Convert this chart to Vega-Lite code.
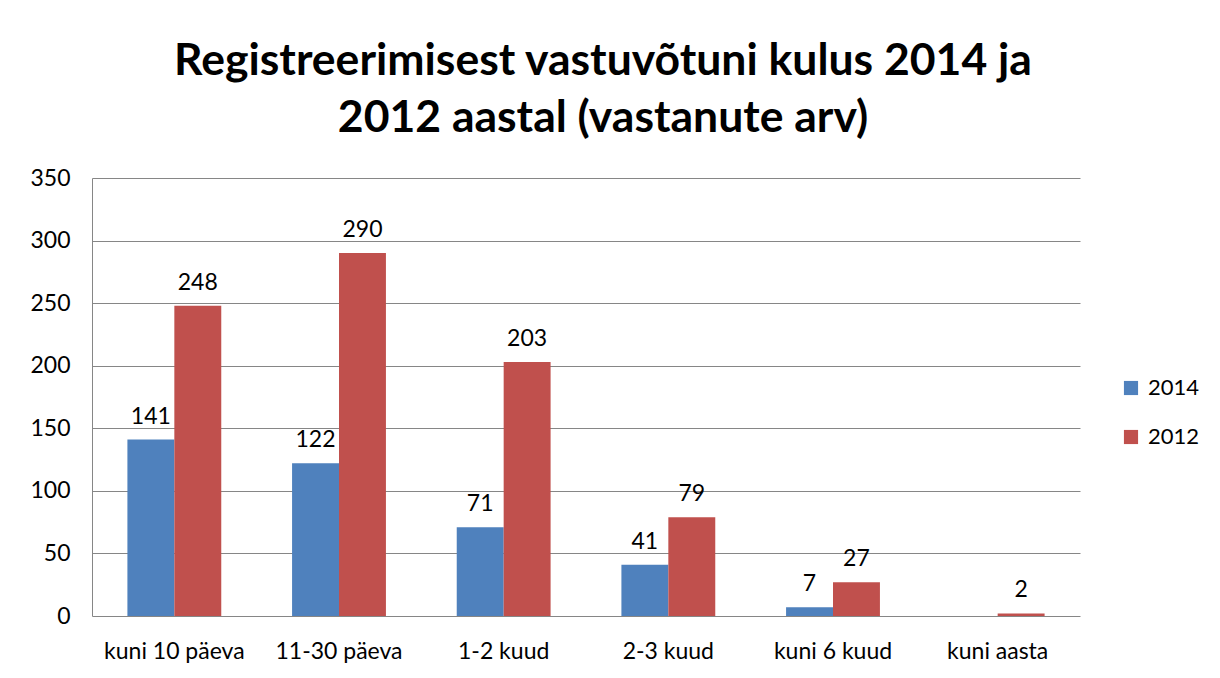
{
  "$schema": "https://vega.github.io/schema/vega-lite/v6.json",
  "autosize": {"type": "none"},
  "width": 988,
  "height": 438,
  "padding": {"left": 92, "top": 178, "right": 140, "bottom": 62},
  "background": "white",
  "title": {
    "text": ["Registreerimisest vastuvõtuni kulus 2014 ja", "2012 aastal (vastanute arv)"],
    "font": "Lato",
    "fontSize": 44.5,
    "fontWeight": "bold",
    "lineHeight": 57,
    "color": "black",
    "anchor": "middle",
    "dx": 17,
    "offset": 26
  },
  "data": {
    "values": [
      {"kategooria": "kuni 10 päeva", "aasta": "2014", "arv": 141},
      {"kategooria": "kuni 10 päeva", "aasta": "2012", "arv": 248},
      {"kategooria": "11-30 päeva", "aasta": "2014", "arv": 122},
      {"kategooria": "11-30 päeva", "aasta": "2012", "arv": 290},
      {"kategooria": "1-2 kuud", "aasta": "2014", "arv": 71},
      {"kategooria": "1-2 kuud", "aasta": "2012", "arv": 203},
      {"kategooria": "2-3 kuud", "aasta": "2014", "arv": 41},
      {"kategooria": "2-3 kuud", "aasta": "2012", "arv": 79},
      {"kategooria": "kuni 6 kuud", "aasta": "2014", "arv": 7},
      {"kategooria": "kuni 6 kuud", "aasta": "2012", "arv": 27},
      {"kategooria": "kuni aasta", "aasta": "2012", "arv": 2}
    ]
  },
  "encoding": {
    "x": {
      "field": "kategooria",
      "type": "nominal",
      "sort": null,
      "scale": {"paddingInner": 0.43, "paddingOuter": 0.215},
      "axis": {
        "title": null,
        "labelAngle": 0,
        "labelFont": "Lato",
        "labelFontSize": 23,
        "labelColor": "black",
        "labelPadding": 24,
        "ticks": false,
        "domain": false,
        "grid": false
      }
    },
    "xOffset": {
      "field": "aasta",
      "type": "nominal",
      "sort": ["2014", "2012"],
      "scale": {"paddingInner": 0, "paddingOuter": 0}
    },
    "y": {
      "field": "arv",
      "type": "quantitative",
      "scale": {"domain": [0, 350], "nice": false},
      "axis": {
        "title": null,
        "values": [0, 50, 100, 150, 200, 250, 300, 350],
        "labelFont": "Lato",
        "labelFontSize": 23,
        "labelColor": "black",
        "labelPadding": 22,
        "ticks": false,
        "domain": true,
        "domainColor": "#868686",
        "gridColor": "#868686",
        "gridWidth": 1
      }
    }
  },
  "layer": [
    {
      "mark": {"type": "bar"},
      "encoding": {
        "color": {
          "field": "aasta",
          "type": "nominal",
          "scale": {"domain": ["2014", "2012"], "range": ["#4F81BD", "#C0504D"]},
          "legend": {
            "title": null,
            "orient": "none",
            "legendX": 1028,
            "legendY": 199,
            "symbolType": "square",
            "symbolSize": 200,
            "symbolStrokeWidth": 0,
            "labelFont": "Lato",
            "labelFontSize": 22,
            "labelColor": "black",
            "labelOffset": 6,
            "rowPadding": 27
          }
        }
      }
    },
    {
      "mark": {"type": "text", "baseline": "bottom", "dy": -11, "font": "Lato", "fontSize": 23, "color": "black"},
      "encoding": {"text": {"field": "arv", "type": "quantitative"}}
    }
  ],
  "config": {"view": {"stroke": null}}
}
